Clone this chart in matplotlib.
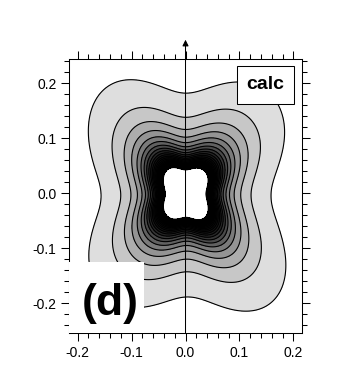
import numpy as np
import matplotlib
matplotlib.use("Agg")
import matplotlib.pyplot as plt
from matplotlib.patches import Rectangle
from matplotlib.ticker import MultipleLocator

plt.rcParams['font.family'] = ['Liberation Sans', 'DejaVu Sans']

# radius of the outermost contour, read every 15 deg (ccw from +x)
angles_deg = np.arange(0, 360, 15)
outer_radius = [0.157, 0.179, 0.210, 0.238, 0.232, 0.200,
                0.183, 0.203, 0.236, 0.238, 0.207, 0.174,
                0.157, 0.170, 0.207, 0.235, 0.235, 0.210,
                0.189, 0.207, 0.249, 0.247, 0.214, 0.173]
inner_lobe = 0.8   # inner contours are a bit squarer than the outer one

# contour levels, in units of the outermost level (value ~ 1/r^2)
levels = np.arange(1.0, 19.01, 0.75)
band_grays = ['0.87', '0.78', '0.68', '0.58', '0.48', '0.38', '0.29', '0.21',
              '0.15', '0.11', '0.08', '0.06', '0.05', '0.04', '0.03', '0.02',
              '0.02', '0.01', '0.01', '0.0', '0.0', '0.0', '0.0', '0.0']

xticks = [-0.2, -0.1, 0.0, 0.1, 0.2]
yticks = [-0.2, -0.1, 0.0, 0.1, 0.2]


def shape(theta, samples, kmax=8):
  # smooth periodic curve through the sampled radii
  n = len(samples)
  c = np.fft.rfft(samples) / n
  out = np.full_like(theta, c[0].real)
  for k in range(1, kmax + 1):
    out += 2 * (c[k].real * np.cos(k * theta) - c[k].imag * np.sin(k * theta))
  return out


x = np.linspace(-0.23, 0.23, 700)
y = np.linspace(-0.27, 0.26, 700)
X, Y = np.meshgrid(x, y)
R = np.hypot(X, Y) + 1e-6
T = np.arctan2(Y, X)
S = shape(T, np.array(outer_radius))
m = np.mean(outer_radius)
amp = inner_lobe + (1 - inner_lobe) * np.clip(R / 0.16, 0, 1)
S = m + (S - m) * amp
F = (S / R) ** 2

fig = plt.figure(figsize=(3.6, 3.92), dpi=100)
ax = fig.add_axes([0.1917, 0.1505, 0.6472, 0.699])

ax.contourf(X, Y, F, levels=levels, colors=band_grays, zorder=1)
ax.contour(X, Y, F, levels=levels, colors='k', linewidths=0.8, zorder=2)

ax.set_xlim(-0.216, 0.216)
ax.set_ylim(-0.254, 0.244)
ax.set_xticks(xticks)
ax.set_yticks(yticks)
ax.set_xticklabels(['%.1f' % v for v in xticks])
ax.set_yticklabels(['%.1f' % v for v in yticks])
ax.xaxis.set_minor_locator(MultipleLocator(0.02))
ax.yaxis.set_minor_locator(MultipleLocator(0.02))
ax.tick_params(which='both', direction='out', top=True, right=True,
               labeltop=False, labelright=False, width=0.75, labelsize=10)
ax.tick_params(which='major', length=6, pad=3)
ax.tick_params(which='minor', length=3.5)
for s in ax.spines.values():
  s.set_linewidth(0.75)

# vertical axis line with arrow at x = 0
ax.annotate('', xy=(0, 0.279), xytext=(0, -0.254),
            arrowprops=dict(arrowstyle='-|>', color='k', lw=0.75,
                            mutation_scale=9, shrinkA=0, shrinkB=0),
            annotation_clip=False, zorder=3)

# label boxes
ax.add_patch(Rectangle((-0.216, -0.254), 0.1395, 0.129, facecolor='white',
                       edgecolor='none', zorder=4))
ax.text(-0.1394, -0.2213, '(d)', fontsize=32, fontweight='bold',
        ha='center', va='baseline', zorder=5)
ax.add_patch(Rectangle((0.0957, 0.162), 0.1053, 0.0695, facecolor='white',
                       edgecolor='k', linewidth=0.75, zorder=4))
ax.text(0.1485, 0.197, 'calc', fontsize=14, fontweight='bold',
        ha='center', va='center', zorder=5)

fig.savefig('out.png', dpi=100)
